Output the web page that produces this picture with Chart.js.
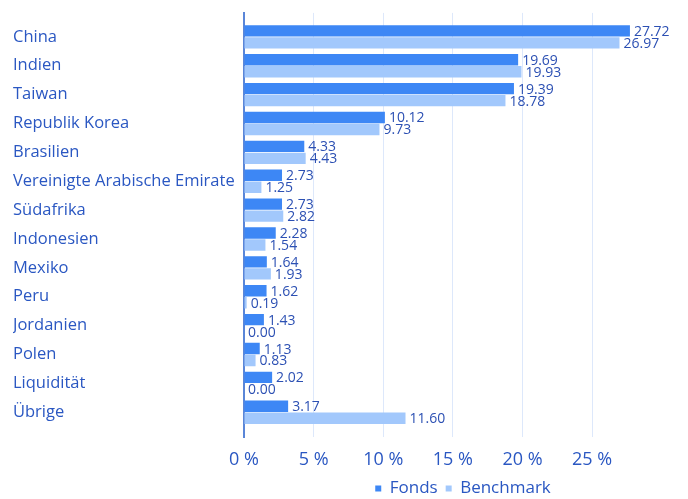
<!DOCTYPE html>
<html>
<head>
<meta charset="utf-8">
<title>Länderallokation</title>
<script src="https://cdn.jsdelivr.net/npm/chart.js@4.4.1/dist/chart.umd.min.js"></script>
<style>
    html, body { margin: 0; padding: 0; background: #fff; }
    #wrap { width: 688px; height: 499px; position: relative; }
</style>
</head>
<body>
<div id="wrap"><canvas id="countryChart"></canvas></div>
<script>
// Data
const countries = ['China', 'Indien', 'Taiwan', 'Republik Korea', 'Brasilien',
    'Vereinigte Arabische Emirate', 'Südafrika', 'Indonesien', 'Mexiko', 'Peru',
    'Jordanien', 'Polen', 'Liquidität', 'Übrige'];
const fonds = [27.72, 19.69, 19.39, 10.12, 4.33, 2.73, 2.73, 2.28, 1.64, 1.62, 1.43, 1.13, 2.02, 3.17];
const benchmark = [26.97, 19.93, 18.78, 9.73, 4.43, 1.25, 2.82, 1.54, 1.93, 0.19, 0.00, 0.83, 0.00, 11.60];
const xTicks = [0, 5, 10, 15, 20, 25];

const FONT = 'Open Sans';
const TEXT_BLUE = '#2a57c2';

// Value labels at the end of each bar
const valueLabels = {
    id: 'valueLabels',
    afterDatasetsDraw(chart) {
        const ctx = chart.ctx;
        ctx.save();
        ctx.font = '14px "' + FONT + '"';
        ctx.fillStyle = '#2c50b3';
        ctx.textAlign = 'left';
        ctx.textBaseline = 'middle';
        chart.data.datasets.forEach((ds, i) => {
            const meta = chart.getDatasetMeta(i);
            meta.data.forEach((bar, j) => {
                ctx.fillText(ds.data[j].x.toFixed(2), bar.x + 4, bar.y + 1);
            });
        });
        ctx.restore();
    }
};

function toPoints(values) {
    return values.map((v, i) => ({ x: v, y: i }));
}

const ctx = document.getElementById('countryChart').getContext('2d');

new Chart(ctx, {
    type: 'bar',
    data: {
        datasets: [
            {
                label: 'Fonds',
                data: toPoints(fonds),
                backgroundColor: '#3d87f5',
                borderWidth: 0
            },
            {
                label: 'Benchmark',
                data: toPoints(benchmark),
                backgroundColor: '#a2c8fc',
                borderWidth: 0
            }
        ]
    },
    options: {
        indexAxis: 'y',
        responsive: true,
        maintainAspectRatio: false,
        animation: false,
        categoryPercentage: 0.83,
        barPercentage: 0.95,
        layout: {
            padding: { top: 10, left: 13, right: 6, bottom: -8 }
        },
        plugins: {
            tooltip: { enabled: false },
            legend: {
                position: 'bottom',
                fullSize: false,
                labels: {
                    usePointStyle: true,
                    pointStyle: 'rect',
                    boxWidth: 6,
                    boxHeight: 6,
                    padding: 8,
                    color: TEXT_BLUE,
                    font: { family: FONT, size: 17 }
                }
            }
        },
        scales: {
            x: {
                type: 'linear',
                min: 0,
                max: 31.46,
                afterBuildTicks: scale => {
                    scale.ticks = xTicks.map(v => ({ value: v }));
                },
                afterFit: scale => {
                    scale.height -= 11;
                },
                grid: {
                    color: '#dde8fb',
                    lineWidth: 1,
                    drawTicks: false
                },
                border: { display: false },
                ticks: {
                    padding: 12,
                    color: TEXT_BLUE,
                    font: { family: FONT, size: 18 },
                    callback: v => v + ' %'
                }
            },
            y: {
                type: 'linear',
                reverse: true,
                offset: false,
                min: -0.83,
                max: 13.87,
                afterBuildTicks: scale => {
                    scale.ticks = countries.map((c, i) => ({ value: i }));
                },
                afterFit: scale => {
                    scale.width = 231;
                },
                grid: { display: false, drawTicks: false },
                border: { display: true, color: '#5a86d8', width: 2 },
                ticks: {
                    crossAlign: 'far',
                    color: TEXT_BLUE,
                    font: { family: FONT, size: 16.5 },
                    callback: v => countries[v]
                }
            }
        }
    },
    plugins: [valueLabels]
});
</script>
</body>
</html>
